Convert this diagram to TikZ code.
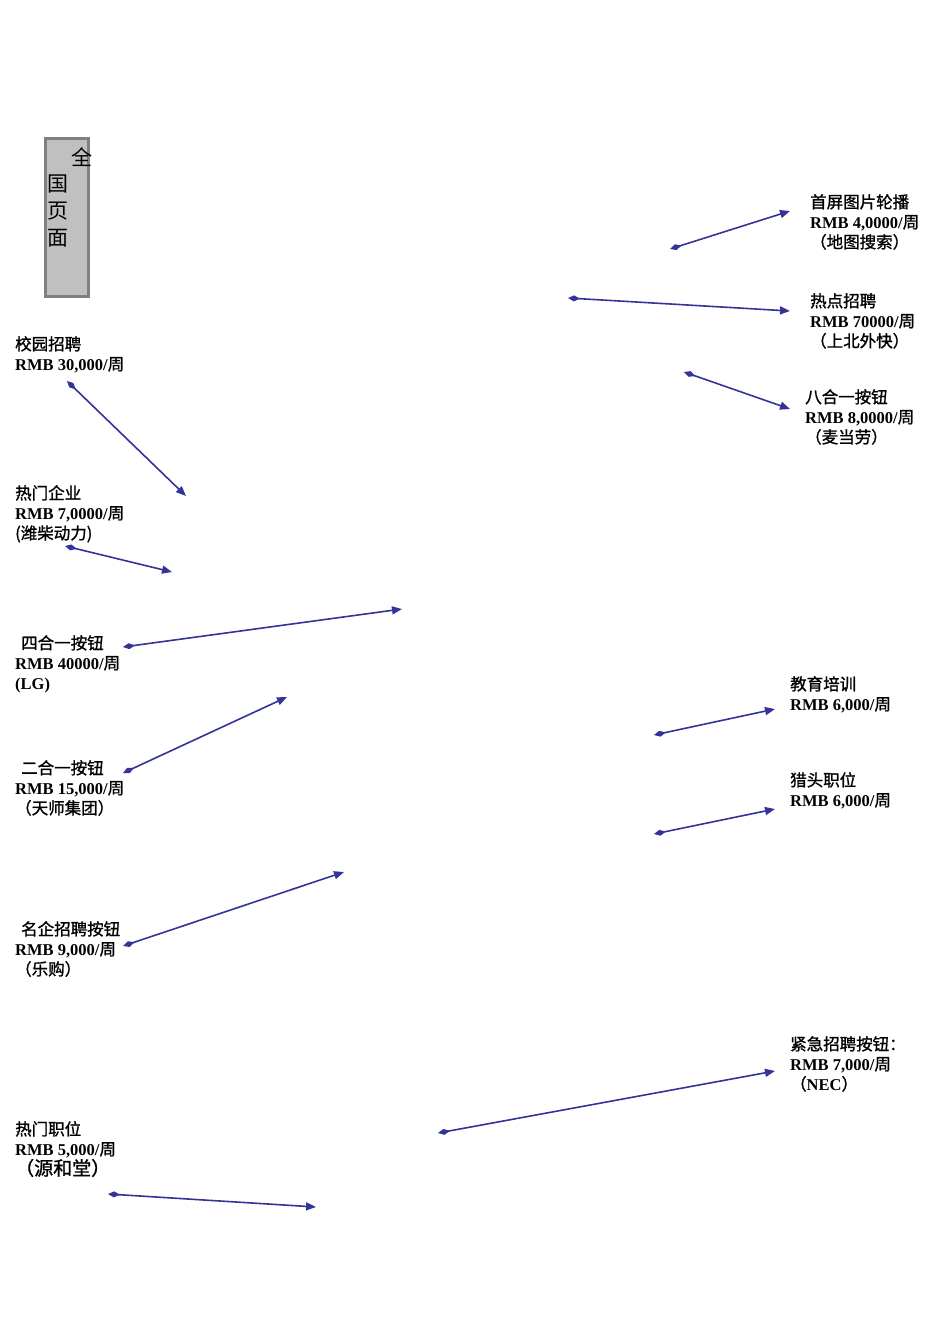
\documentclass[tikz,border=0pt]{standalone}
\usepackage{fontspec}
\setmainfont{Liberation Serif}
\newfontfamily\cjk{Noto Sans CJK SC}
\newfontfamily\cjkb[FakeBold=1.2]{Noto Sans CJK SC}
\usetikzlibrary{arrows.meta}
\definecolor{arr}{HTML}{333399}
\definecolor{boxfill}{HTML}{C0C0C0}
\definecolor{boxline}{HTML}{808080}
\newcommand{\zh}[1]{{\cjkb #1}}
\newcommand{\rmb}[1]{{\bfseries RMB #1/}\zh{周}}
\begin{document}
\begin{tikzpicture}[x=1pt,y=-1pt,
  lab/.style={anchor=north west, inner sep=0pt, align=left, font=\fontsize{16.5}{20}\selectfont},
  vch/.style={inner sep=0pt, font=\cjk\fontsize{21}{21}\selectfont},
  conn/.style={draw=arr, line width=1.6pt, arrows={Diamond[length=12pt,width=6pt]-Triangle[length=10pt,width=8pt]}}]
\useasboundingbox (0,0) rectangle (950,1344);
% title box
\node[draw=boxline, line width=3pt, fill=boxfill, minimum width=43pt, minimum height=158pt, inner sep=0pt] (box) at (66.5,217) {};
\begin{scope}
\clip (0,100) rectangle (93,300);
\node[vch] (c1) at (82,157) {全};
\end{scope}
\node[vch] (c2) at (58,184) {国};
\node[vch] (c3) at (58,211) {页};
\node[vch] (c4) at (58,238) {面};
% labels right
\node[lab] (l1) at (810,194) {\zh{首屏图片轮播}\\\rmb{4,0000}\\\zh{（地图搜索）}};
\node[lab] (l2) at (810,293) {\zh{热点招聘}\\\rmb{70000}\\\zh{（上北外快）}};
\node[lab] (l3) at (805,389) {\zh{八合一按钮}\\\rmb{8,0000}\\\zh{（麦当劳）}};
\node[lab] (l4) at (790,676) {\zh{教育培训}\\\rmb{6,000}};
\node[lab] (l5) at (790,772) {\zh{猎头职位}\\\rmb{6,000}};
\node[lab] (l6) at (790,1036) {\zh{紧急招聘按钮：}\\\rmb{7,000}\\\zh{（}{\bfseries NEC}\zh{）}};
% labels left
\node[lab] (l7) at (15,336) {\zh{校园招聘}\\\rmb{30,000}};
\node[lab] (l8) at (15,485) {\zh{热门企业}\\\rmb{7,0000}\\\zh{(潍柴动力)}};
\node[lab] (l9) at (15,635) {\hspace*{6pt}\zh{四合一按钮}\\\rmb{40000}\\{\bfseries (LG)}};
\node[lab] (l10) at (15,760) {\hspace*{6pt}\zh{二合一按钮}\\\rmb{15,000}\\\zh{（天师集团）}};
\node[lab] (l11) at (15,921) {\hspace*{6pt}\zh{名企招聘按钮}\\\rmb{9,000}\\\zh{（乐购）}};
\node[lab] (l12) at (15,1121) {\zh{热门职位}\\\rmb{5,000}\\{\cjkb\fontsize{19}{20}\selectfont （源和堂）}};
% connector end points
\coordinate (a1s) at (670,249); \coordinate (a1e) at (790,211);
\coordinate (a2s) at (568,298); \coordinate (a2e) at (790,311);
\coordinate (a3s) at (684,372); \coordinate (a3e) at (790,409);
\coordinate (a4s) at (67,381);  \coordinate (a4e) at (186,496);
\coordinate (a5s) at (65,546);  \coordinate (a5e) at (172,572);
\coordinate (a6s) at (123,647); \coordinate (a6e) at (402,609);
\coordinate (a7s) at (123,773); \coordinate (a7e) at (287,697);
\coordinate (a8s) at (654,735); \coordinate (a8e) at (775,709);
\coordinate (a9s) at (654,834); \coordinate (a9e) at (775,809);
\coordinate (a10s) at (123,946); \coordinate (a10e) at (344,872);
\coordinate (a11s) at (438,1133); \coordinate (a11e) at (775,1071);
\coordinate (a12s) at (108,1194); \coordinate (a12e) at (316,1207);
\foreach \i in {1,...,12} {\draw[conn] (a\i s) -- (a\i e);}
\end{tikzpicture}
\end{document}
